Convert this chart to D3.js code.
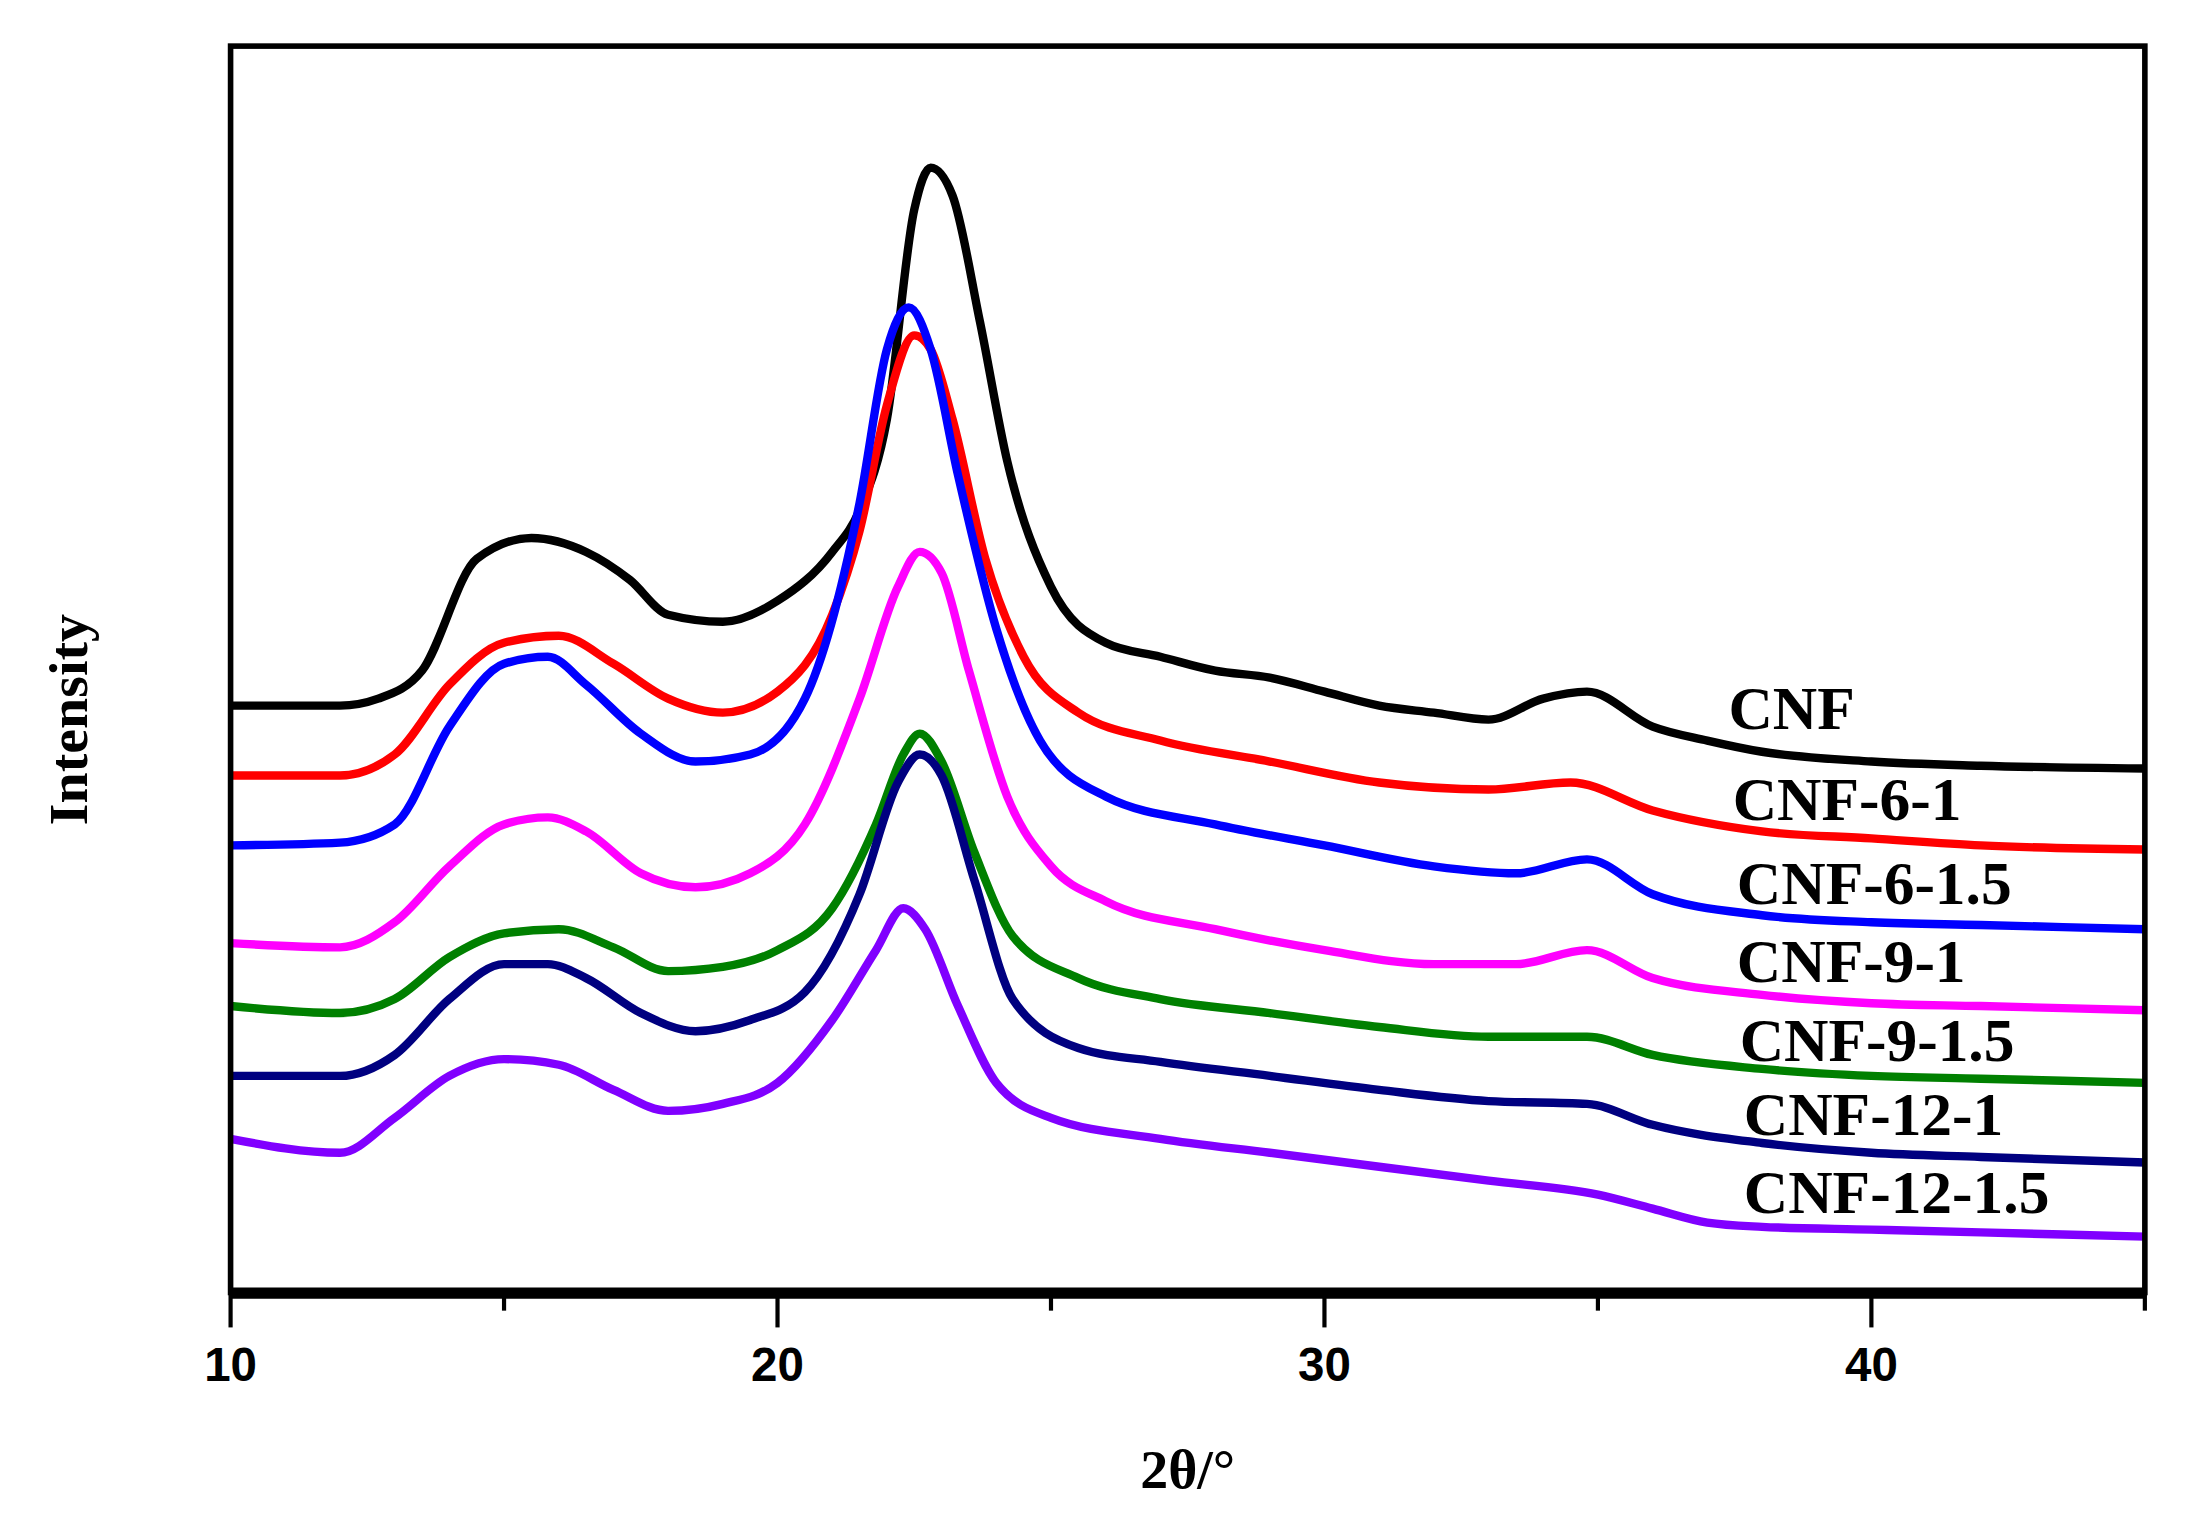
<!DOCTYPE html>
<html><head><meta charset="utf-8">
<script src="https://cdn.jsdelivr.net/npm/d3@7"></script>
<style>body{margin:0;background:#fff}</style></head>
<body><div id="container"></div>
<script>
// series: [2theta, intensity] (intensity in arbitrary units)
const names = ['CNF','CNF-6-1','CNF-6-1.5','CNF-9-1','CNF-9-1.5','CNF-12-1','CNF-12-1.5'];
const colors = ['#000000','#ff0000','#0000ff','#ff00ff','#008000','#000080','#8000ff'];
const cnf = [[10,505],[12,505],[12.7,500],[13.5,480],[14.5,400],[15.5,385],[16.5,395],[17.3,415],[18,440],[19,445],[20,430],[21,395],[21.5,365],[22,300],[22.5,150],[22.8,120],[23.2,140],[23.7,230],[24.2,330],[25,420],[26,460],[27,470],[28,480],[29,485],[30,495],[31,505],[32,510],[33,515],[34,500],[34.8,495],[36,520],[37,530],[38,538],[40,545],[42,548],[45,550]];
const cnf61 = [[10,555],[12,555],[13,540],[14,490],[15,460],[16,455],[17,475],[18,500],[19,510],[20,495],[21,440],[21.5,380],[22,290],[22.5,240],[22.8,250],[23.2,300],[23.8,400],[24.5,470],[25.5,510],[27,530],[29,545],[31,560],[33,565],[34.5,560],[36,580],[38,595],[40,600],[42,605],[45,608]];
const cnf615 = [[10,605],[12,603],[13,590],[14,520],[15,475],[15.8,470],[16.5,490],[17.5,525],[18.5,545],[19.5,540],[20.5,500],[21.5,360],[22,250],[22.4,220],[22.8,250],[23.3,340],[24,450],[24.8,530],[26,570],[28,590],[30,605],[32,620],[33.5,625],[34.8,615],[36,640],[38,655],[40,660],[42,662],[45,665]];
const cnf91 = [[10,675],[12,678],[13,660],[14,620],[15,590],[15.8,585],[16.5,595],[17.5,625],[18.5,635],[19.5,625],[20.5,590],[21.5,500],[22.2,420],[22.6,395],[23,410],[23.5,480],[24.2,570],[25,620],[26,645],[28,665],[30,680],[32,690],[33.5,690],[34.8,680],[36,700],[38,712],[40,718],[42,720],[45,723]];
const cnf915 = [[10,720],[12,725],[13,715],[14,685],[15,668],[16,665],[17,678],[18,695],[19,692],[20,680],[21,650],[21.8,590],[22.3,540],[22.6,525],[23,545],[23.6,610],[24.3,670],[25.5,700],[27,715],[29,725],[31,735],[33,742],[34.8,742],[36,755],[38,765],[40,770],[42,772],[45,775]];
const cnf121 = [[10,770],[12,770],[13,755],[14,715],[15,690],[15.8,690],[16.5,700],[17.5,725],[18.5,738],[19.5,730],[20.5,710],[21.5,640],[22.2,560],[22.6,540],[23,555],[23.6,630],[24.3,715],[25.5,750],[27,760],[29,770],[31,780],[33,788],[34.8,790],[36,805],[38,818],[40,825],[42,828],[45,832]];
const cnf1215 = [[10,815],[12,825],[13,800],[14,770],[15,758],[16,762],[17,780],[18,795],[19,790],[20,775],[21,730],[21.8,680],[22.3,650],[22.7,665],[23.3,720],[24,775],[25,800],[27,815],[29,825],[31,835],[33,845],[35,855],[36,865],[37,875],[38,878],[40,880],[42,882],[45,885]];
const series = [cnf, cnf61, cnf615, cnf91, cnf915, cnf121, cnf1215];
const xTicks = [10,15,20,25,30,35,40,45];
const xLabels = [10,20,30,40];

const W = 1568, H = 1091.4;
const pLeft = 165, pRight = 1535, pTop = 33, pBottom = 925;

const svg = d3.select('#container').append('svg')
  .attr('width', 2191).attr('height', 1525)
  .attr('viewBox', `0 0 ${W} ${H}`);

const x = d3.scaleLinear().domain([10,45]).range([pLeft,pRight]);
// intensity stored as "depth" value: larger = lower on the plot
const y = d3.scaleLinear().domain([33,925]).range([pTop,pBottom]);

const line = d3.line().x(d => x(d[0])).y(d => y(d[1])).curve(d3.curveMonotoneX);

svg.append('g').selectAll('path').data(series).join('path')
  .attr('fill','none')
  .attr('stroke',(d,i) => colors[i])
  .attr('stroke-width',6)
  .attr('stroke-linejoin','round')
  .attr('d', line);

// frame
svg.append('rect').attr('x',pLeft).attr('y',pTop).attr('width',pRight-pLeft).attr('height',pBottom-pTop)
  .attr('fill','none').attr('stroke','#000').attr('stroke-width',4);

// bottom axis
svg.append('g')
  .attr('transform',`translate(0,${pBottom})`)
  .call(d3.axisBottom(x).tickValues(xTicks).tickSize(0).tickFormat(''))
  .call(g => g.select('.domain').attr('stroke-width',8));
svg.append('g').selectAll('line').data(xTicks).join('line')
  .attr('x1',d => x(d)).attr('x2',d => x(d))
  .attr('y1',pBottom).attr('y2',d => pBottom + (d % 10 === 0 ? 25 : 13))
  .attr('stroke','#000').attr('stroke-width',3);
svg.append('g').selectAll('text').data(xLabels).join('text')
  .attr('x',d => x(d)).attr('y',988)
  .attr('text-anchor','middle')
  .attr('font-family','Liberation Sans, Arial, sans-serif')
  .attr('font-weight','bold').attr('font-size',34)
  .text(d => d);

svg.append('text').attr('x',850).attr('y',1065).attr('text-anchor','middle')
  .attr('font-family','Liberation Serif, Times New Roman, serif')
  .attr('font-weight','bold').attr('font-size',40).text('2θ/°');
svg.append('text').attr('transform','translate(62,515) rotate(-90)').attr('text-anchor','middle')
  .attr('font-family','Liberation Serif, Times New Roman, serif')
  .attr('font-weight','bold').attr('font-size',40).text('Intensity');

// series labels
const labelPos = [[1237,522],[1240,587],[1243,647],[1243,703],[1245,759],[1248,812],[1248,868]];
svg.append('g').selectAll('text').data(names).join('text')
  .attr('x',(d,i) => labelPos[i][0]).attr('y',(d,i) => labelPos[i][1])
  .attr('font-family','Liberation Serif, Times New Roman, serif')
  .attr('font-weight','bold').attr('font-size',44)
  .text(d => d);
</script></body></html>
